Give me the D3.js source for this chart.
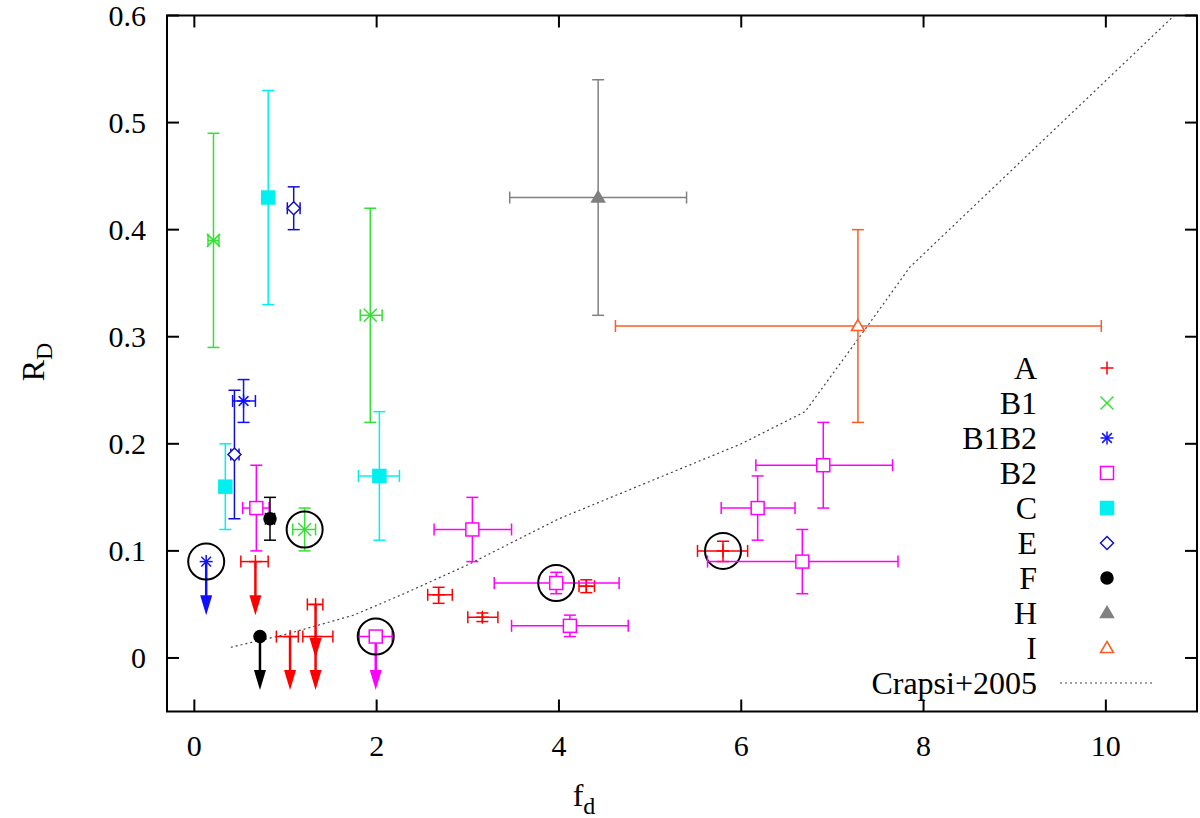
<!DOCTYPE html>
<html>
<head>
<meta charset="utf-8">
<script src="https://cdn.jsdelivr.net/npm/d3@7"></script>
<style>
  body { margin: 0; background: #fff; }
  svg text { font-family: "Liberation Serif", "Times New Roman", Times, "DejaVu Serif", serif; }
</style>
</head>
<body>
<svg id="chart" width="1200" height="818"></svg>
<script>
// each point: [x, y, xlo, xhi, ylo, yhi, upperLimit, circled]
var seriesA = [
    [0.67, 0.09, 0.51, 0.81, null, null, 1, 0],
    [1.05, 0.02, 0.90, 1.14, null, null, 1, 0],
    [1.33, 0.05, 1.24, 1.41, null, null, 1, 0],
    [1.33, 0.02, 1.19, 1.52, null, null, 1, 0],
    [2.68, 0.059, 2.56, 2.83, 0.051, 0.066, 0, 0],
    [3.16, 0.038, 3.00, 3.33, 0.034, 0.042, 0, 0],
    [4.30, 0.067, 4.22, 4.39, 0.061, 0.073, 0, 0],
    [5.80, 0.10, 5.52, 6.07, 0.09, 0.109, 0, 1]
];
var seriesB1 = [
    [0.21, 0.39, 0.15, 0.27, 0.29, 0.49, 0, 0],
    [1.93, 0.32, 1.82, 2.06, 0.22, 0.42, 0, 0],
    [1.21, 0.12, 1.08, 1.33, 0.10, 0.14, 0, 1]
];
var seriesB1B2 = [
    [0.54, 0.24, 0.42, 0.67, 0.22, 0.26, 0, 0],
    [0.13, 0.09, null, null, null, null, 1, 1]
];
var seriesB2 = [
    [0.68, 0.14, 0.53, 0.82, 0.10, 0.18, 0, 0],
    [1.99, 0.02, 1.81, 2.17, null, null, 1, 1],
    [3.05, 0.12, 2.63, 3.48, 0.09, 0.15, 0, 0],
    [3.97, 0.07, 3.29, 4.66, 0.06, 0.08, 0, 1],
    [4.12, 0.03, 3.48, 4.76, 0.02, 0.04, 0, 0],
    [6.18, 0.14, 5.78, 6.59, 0.11, 0.17, 0, 0],
    [6.90, 0.18, 6.16, 7.66, 0.14, 0.22, 0, 0],
    [6.67, 0.09, 5.63, 7.72, 0.06, 0.12, 0, 0]
];
var seriesC = [
    [0.81, 0.43, null, null, 0.33, 0.53, 0, 0],
    [0.34, 0.16, null, null, 0.12, 0.20, 0, 0],
    [2.03, 0.17, 1.80, 2.25, 0.11, 0.23, 0, 0]
];
var seriesE = [
    [1.09, 0.42, 1.02, 1.16, 0.40, 0.44, 0, 0],
    [0.44, 0.19, 0.40, 0.49, 0.13, 0.25, 0, 0]
];
var seriesF = [
    [0.83, 0.13, 0.78, 0.88, 0.11, 0.15, 0, 0],
    [0.72, 0.02, null, null, null, null, 1, 0]
];
var seriesH = [
    [4.43, 0.43, 3.46, 5.40, 0.32, 0.54, 0, 0]
];
var seriesI = [
    [7.28, 0.31, 4.62, 9.95, 0.22, 0.40, 0, 0]
];
// Crapsi+2005 curve
var crapsiX = [0.4, 1.0, 1.75, 2.3, 3.0, 4.0, 5.0, 6.0, 6.7, 7.3, 7.85, 10.75];
var crapsiY = [0.01, 0.022, 0.04, 0.06, 0.087, 0.13, 0.165, 0.2, 0.23, 0.30, 0.365, 0.6];

var seriesNames = ["A", "B1", "B1B2", "B2", "C", "E", "F", "H", "I"];
var xTicks = [0, 2, 4, 6, 8, 10];
var yTicks = [0, 0.1, 0.2, 0.3, 0.4, 0.5, 0.6];

var FONT = "'Liberation Serif', 'Times New Roman', Times, 'DejaVu Serif', serif";

var series = [
    {name: "A", data: seriesA, color: "#ff0000", marker: "plus"},
    {name: "B1", data: seriesB1, color: "#33e033", marker: "cross"},
    {name: "B1B2", data: seriesB1B2, color: "#1010ff", marker: "star"},
    {name: "B2", data: seriesB2, color: "#ff00ff", marker: "box"},
    {name: "C", data: seriesC, color: "#00f0f0", marker: "fbox"},
    {name: "E", data: seriesE, color: "#1010c8", marker: "diamond"},
    {name: "F", data: seriesF, color: "#000000", marker: "fcircle"},
    {name: "H", data: seriesH, color: "#808080", marker: "ftri"},
    {name: "I", data: seriesI, color: "#ff5a20", marker: "tri"}
];

var svg = d3.select("#chart").attr("font-family", FONT);
var x = d3.scaleLinear().domain([-0.3, 11]).range([167, 1197]);
var y = d3.scaleLinear().domain([-0.05, 0.6]).range([711.5, 15.5]);

// clip for the model curve
svg.append("clipPath").attr("id", "plotclip")
    .append("rect").attr("x", 167).attr("y", 15.5).attr("width", 1030).attr("height", 696);

// axes, ticks mirrored on all sides, pointing inward
var tickLen = 12;
var axes = svg.append("g").attr("stroke", "#000").attr("stroke-width", 2);
xTicks.forEach(function (t) {
    axes.append("line").attr("x1", x(t)).attr("x2", x(t)).attr("y1", y.range()[0]).attr("y2", y.range()[0] - tickLen);
    axes.append("line").attr("x1", x(t)).attr("x2", x(t)).attr("y1", y.range()[1]).attr("y2", y.range()[1] + tickLen);
});
yTicks.forEach(function (t) {
    axes.append("line").attr("x1", x.range()[0]).attr("x2", x.range()[0] + tickLen).attr("y1", y(t)).attr("y2", y(t));
    axes.append("line").attr("x1", x.range()[1]).attr("x2", x.range()[1] - tickLen).attr("y1", y(t)).attr("y2", y(t));
});

svg.append("g").selectAll("text").data(xTicks).enter().append("text")
    .attr("x", function (d) { return x(d); })
    .attr("y", 756)
    .attr("text-anchor", "middle")
    .attr("font-family", FONT)
    .attr("font-size", 30)
    .text(function (d) { return d; });

svg.append("g").selectAll("text").data(yTicks).enter().append("text")
    .attr("x", 146)
    .attr("y", function (d) { return y(d) + 10; })
    .attr("text-anchor", "end")
    .attr("font-family", FONT)
    .attr("font-size", 30)
    .text(function (d) { return d === 0 ? "0" : d3.format(".1f")(d); });

// axis titles
var xt = svg.append("text").attr("x", 584).attr("y", 806).attr("font-size", 32)
    .attr("font-family", FONT).attr("text-anchor", "middle");
xt.append("tspan").text("f");
xt.append("tspan").attr("font-size", 24).attr("dy", 8).text("d");

var yt = svg.append("text").attr("transform", "translate(44,362) rotate(-90)").attr("font-size", 32)
    .attr("font-family", FONT).attr("text-anchor", "middle");
yt.append("tspan").text("R");
yt.append("tspan").attr("font-size", 24).attr("dy", 8).text("D");

// model curve
var crapsi = crapsiX.map(function (d, i) { return [d, crapsiY[i]]; });
svg.append("path")
    .datum(crapsi)
    .attr("clip-path", "url(#plotclip)")
    .attr("fill", "none")
    .attr("stroke", "#444")
    .attr("stroke-width", 1.2)
    .attr("stroke-dasharray", "2,3")
    .attr("d", d3.line().x(function (d) { return x(d[0]); }).y(function (d) { return y(d[1]); }));

function drawMarker(g, type, cx, cy, color) {
    var s = 6.5;
    var m = g.append("g").attr("stroke", color).attr("stroke-width", 1.5).attr("fill", "none");
    if (type === "plus" || type === "star") {
        m.append("line").attr("x1", cx - s).attr("x2", cx + s).attr("y1", cy).attr("y2", cy);
        m.append("line").attr("x1", cx).attr("x2", cx).attr("y1", cy - s).attr("y2", cy + s);
    }
    if (type === "cross" || type === "star") {
        var k = type === "star" ? s * 0.75 : s;
        m.append("line").attr("x1", cx - k).attr("x2", cx + k).attr("y1", cy - k).attr("y2", cy + k);
        m.append("line").attr("x1", cx - k).attr("x2", cx + k).attr("y1", cy + k).attr("y2", cy - k);
    }
    if (type === "box") {
        m.append("rect").attr("x", cx - s).attr("y", cy - s).attr("width", 2 * s).attr("height", 2 * s).attr("fill", "#fff");
    }
    if (type === "fbox") {
        m.append("rect").attr("x", cx - s).attr("y", cy - s).attr("width", 2 * s).attr("height", 2 * s).attr("fill", color);
    }
    if (type === "diamond") {
        m.append("path").attr("fill", "#fff")
            .attr("d", "M" + cx + "," + (cy - s) + "L" + (cx + s) + "," + cy + "L" + cx + "," + (cy + s) + "L" + (cx - s) + "," + cy + "Z");
    }
    if (type === "fcircle") {
        m.append("circle").attr("cx", cx).attr("cy", cy).attr("r", 6).attr("fill", color);
    }
    if (type === "ftri" || type === "tri") {
        m.append("path").attr("fill", type === "ftri" ? color : "#fff")
            .attr("d", "M" + cx + "," + (cy - s) + "L" + (cx + s) + "," + (cy + s * 0.7) + "L" + (cx - s) + "," + (cy + s * 0.7) + "Z");
    }
}

var cap = 6;
var marks = svg.append("g");
series.forEach(function (ser) {
    ser.data.forEach(function (p) {
        var px = x(p[0]), py = y(p[1]);
        var g = marks.append("g").attr("stroke", ser.color).attr("stroke-width", 1.5);
        if (p[4] !== null) {
            g.append("line").attr("x1", px).attr("x2", px).attr("y1", y(p[4])).attr("y2", y(p[5]));
            g.append("line").attr("x1", px - cap).attr("x2", px + cap).attr("y1", y(p[4])).attr("y2", y(p[4]));
            g.append("line").attr("x1", px - cap).attr("x2", px + cap).attr("y1", y(p[5])).attr("y2", y(p[5]));
        }
        if (p[2] !== null) {
            g.append("line").attr("x1", x(p[2])).attr("x2", x(p[3])).attr("y1", py).attr("y2", py);
            g.append("line").attr("x1", x(p[2])).attr("x2", x(p[2])).attr("y1", py - cap).attr("y2", py + cap);
            g.append("line").attr("x1", x(p[3])).attr("x2", x(p[3])).attr("y1", py - cap).attr("y2", py + cap);
        }
        if (p[6]) {
            // upper limit arrow
            var tip = y(p[1] - 0.05);
            g.append("line").attr("x1", px).attr("x2", px).attr("y1", py).attr("y2", tip - 10).attr("stroke-width", 2.5);
            g.append("path").attr("fill", ser.color).attr("stroke", "none")
                .attr("d", "M" + (px - 6) + "," + (tip - 20) + "L" + (px + 6) + "," + (tip - 20) + "L" + px + "," + tip + "Z");
        }
        drawMarker(marks, ser.marker, px, py, ser.color);
        if (p[7]) {
            marks.append("circle").attr("cx", px).attr("cy", py).attr("r", 18)
                .attr("fill", "none").attr("stroke", "#000").attr("stroke-width", 2);
        }
    });
});

// legend
var legend = svg.append("g");
var ly0 = 368, ldy = 35;
series.forEach(function (ser, i) {
    var ly = ly0 + i * ldy;
    legend.append("text").attr("x", 1037).attr("y", ly + 11).attr("text-anchor", "end")
        .attr("font-family", FONT).attr("font-size", 32).text(seriesNames[i]);
    drawMarker(legend, ser.marker, 1107, ly, ser.color);
});
var lyc = ly0 + series.length * ldy;
legend.append("text").attr("x", 1037).attr("y", lyc + 11).attr("text-anchor", "end")
    .attr("font-family", FONT).attr("font-size", 32).text("Crapsi+2005");
legend.append("line").attr("x1", 1060).attr("x2", 1155).attr("y1", lyc).attr("y2", lyc)
    .attr("stroke", "#444").attr("stroke-width", 1.2).attr("stroke-dasharray", "2,3");

// frame on top
svg.append("rect").attr("x", 167).attr("y", 15.5).attr("width", 1030).attr("height", 696)
    .attr("fill", "none").attr("stroke", "#000").attr("stroke-width", 2);
</script>
</body>
</html>
